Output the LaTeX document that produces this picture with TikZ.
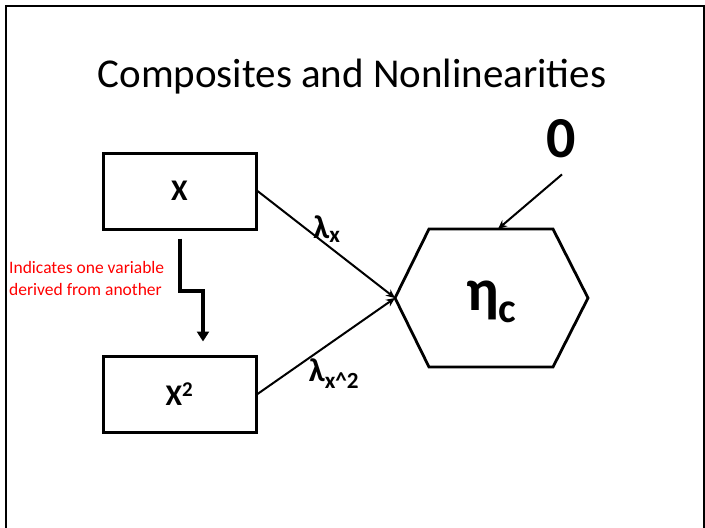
\documentclass[tikz,border=0pt]{standalone}
\usepackage{fontspec}
\setmainfont{Carlito}
\usepackage{tikz}
\usetikzlibrary{arrows.meta,positioning,calc}
\definecolor{ink}{HTML}{000000}
\definecolor{notered}{HTML}{FF0000}
\tikzset{
  varbox/.style ={draw=ink,line width=3pt,minimum width=153pt,minimum height=76pt,
                  inner sep=0pt,font=\fontsize{30}{32}\selectfont\bfseries},
  hexline/.style={draw=ink,line width=2.8pt,line join=miter},
  path/.style   ={-{Stealth[length=9pt,width=8pt]},line width=2pt,draw=ink},
  derive/.style ={-{Triangle[length=10pt,width=12pt]},line width=4pt,draw=ink},
  lam/.style    ={font=\fontsize{33}{34}\selectfont\bfseries,inner sep=0pt},
  frame/.style  ={draw=ink,line width=2pt}
}

\begin{document}
\begin{tikzpicture}[x=1pt,y=-1pt]
    \useasboundingbox (0,0) rectangle (705,528);
    \draw[frame] (6,528) -- (6,5.5) -- (704,5.5) -- (704,528);
    \node[anchor=base,inner sep=0pt,font=\fontsize{41}{48}\selectfont] (title) at (352,87) {Composites and Nonlinearities};
    \node[varbox] (x) at (179.5,191) {\raisebox{-3pt}{X}};
    \node[varbox] (x2) at (179.5,394) {\raisebox{-3pt}{X\textsuperscript{2}}};
    % hexagon for the composite
    \node[inner sep=0pt,font=\fontsize{60}{62}\selectfont\bfseries] (eta) at (491.5,302) {η\textsubscript{c}};
    \coordinate (hexW) at (395,298);
    \coordinate (hexN) at (498,229);
    \draw[hexline] (hexW) -- (429,229) -- (553,229) -- (588,298) -- (553,367) -- (429,367) -- cycle;
    \node[font=\fontsize{58}{60}\selectfont\bfseries,inner sep=0pt] (zero) at (561,139) {0};
    \node[anchor=base west,align=left,inner sep=0pt,text=notered,font=\fontsize{17.5}{22}\selectfont] (note) at (9,295) {Indicates one variable\\derived from another};
    \draw[path] (x.east) -- (hexW) node[lam,pos=0.45,above right=-4pt and -7pt] (lamx) {λ\textsubscript{x}};
    \draw[path] (x2.east) -- (hexW) node[lam,pos=0.38,below right=0pt and -2pt] (lamx2) {λ\textsubscript{x\textasciicircum2}};
    \draw[path] ([xshift=1pt,yshift=-16pt]zero.south) -- (hexN);
    \draw[derive] ([yshift=-8pt]x.south) -- ++(0,52) -| ([xshift=23.5pt,yshift=13pt]x2.north);
\end{tikzpicture}
\end{document}
